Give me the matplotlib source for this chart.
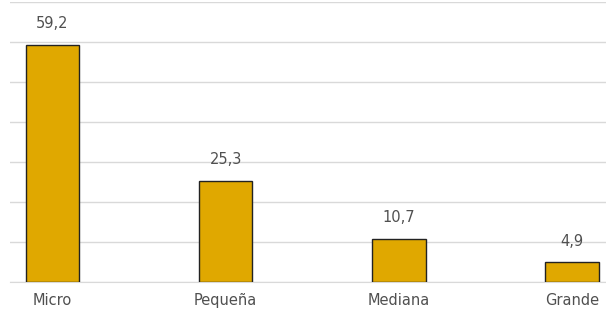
import matplotlib.pyplot as plt

# Company size shares (%)
categories = ["Micro", "Pequeña", "Mediana", "Grande"]
values = [59.2, 25.3, 10.7, 4.9]
value_labels = ["59,2", "25,3", "10,7", "4,9"]

fig = plt.figure(figsize=(6.06, 3.16), dpi=100)
ax = fig.add_axes([0.0165, 0.1076, 0.99, 0.8861])

x = list(range(len(categories)))
bars = ax.bar(x, values, width=0.31, color="#E0A800", edgecolor="#222222",
              linewidth=1.0, zorder=3)

for bar, lab in zip(bars, value_labels):
    ax.annotate(lab, (bar.get_x() + bar.get_width() / 2, bar.get_height()),
                xytext=(0, 10), textcoords="offset points",
                ha="center", va="bottom", fontsize=10.5, color="#505050")

ax.set_xlim(-0.245, 3.219)
ax.set_ylim(0, 70)
ax.set_yticks(range(0, 71, 10))
ax.yaxis.grid(True, color="#D9D9D9", linewidth=1.0, zorder=0)
ax.set_yticklabels([])
ax.tick_params(axis="y", length=0)
ax.set_xticks(x)
ax.set_xticklabels(categories, fontsize=10.5, color="#505050")
ax.tick_params(axis="x", length=0, pad=8)
for s in ["top", "right", "left"]:
    ax.spines[s].set_visible(False)
ax.spines["bottom"].set_color("#D9D9D9")

fig.savefig("out.png", dpi=100)
